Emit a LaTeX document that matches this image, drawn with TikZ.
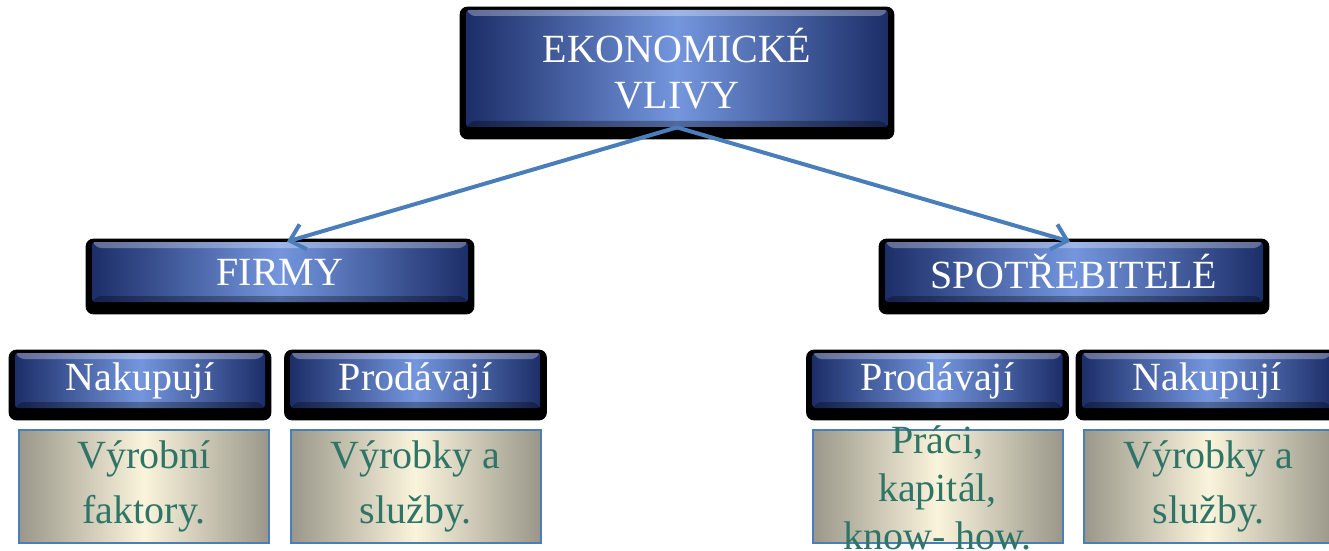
\documentclass[tikz,border=0pt]{standalone}
\usepackage{fontspec}
\setmainfont{Liberation Serif}
\usetikzlibrary{arrows.meta,positioning,fit,backgrounds}
\definecolor{navy}{HTML}{1C2E68}
\definecolor{sky}{HTML}{7496DE}
\definecolor{linkblue}{HTML}{4A7EBB}
\definecolor{cream}{HTML}{FAF4DC}
\definecolor{stone}{HTML}{9A978A}
\definecolor{leaf}{HTML}{2F7567}

\begin{document}
\begin{tikzpicture}[
  x=0.5pt, y=-0.5pt,
  font=\fontsize{20}{23}\selectfont,
  head/.style={rounded corners=1.5pt, left color=navy, right color=navy,
               middle color=sky, text=white, align=center, inner sep=0pt,
               minimum width=#1, minimum height=27.5pt,
               path picture={
                 \fill[white, opacity=.3] (path picture bounding box.north west)
                   -- (path picture bounding box.north east)
                   -- ([shift={(-3pt,-3pt)}]path picture bounding box.north east)
                   -- ([shift={(3pt,-3pt)}]path picture bounding box.north west) -- cycle;
                 \fill[black, opacity=.3] (path picture bounding box.south west)
                   -- (path picture bounding box.south east)
                   -- ([shift={(-3pt,3pt)}]path picture bounding box.south east)
                   -- ([shift={(3pt,3pt)}]path picture bounding box.south west) -- cycle;}},
  head/.default=125pt,
  rim/.style={fill=black, rounded corners=4pt, inner sep=0pt},
  card/.style={draw=linkblue, line width=1pt, left color=stone, right color=stone,
               middle color=cream, text=leaf,
               align=center, inner sep=0pt, minimum width=125pt, minimum height=56.5pt,
               font=\fontsize{20}{27.5}\selectfont},
  link/.style={-{Straight Barb[length=7pt, width=13pt]}, draw=linkblue, line width=2pt},
]
\useasboundingbox (0,0) rectangle (1329,551);

%% ---------------- top ----------------
\node[head=211pt, minimum height=58.5pt] (top) at (677, 68.5) {EKONOMICKÉ\\VLIVY};

%% ---------------- second row ----------------
\node[head=188pt, minimum height=30pt] (firmy) at (280, 272) {FIRMY};
\node[head=189pt, minimum height=30pt] (spot) at (1074, 272) {SPOTŘEBITELÉ};

%% ---------------- third row ----------------
\node[head] (nak1) at (140, 380.5) {Nakupují};
\node[head] (pro1) at (415.5, 380.5) {Prodávají};
\node[head] (pro2) at (937.5, 380.5) {Prodávají};
\node[head] (nak2) at (1207, 380.5) {Nakupují};

%% ---------------- contents ----------------
\node[card] (c1) at (144, 486.5) {Výrobní\\faktory.};
\node[card] (c2) at (415.5, 486.5) {Výrobky a\\služby.};
\node[card] (c3) at (937.5, 486.5)
  {\smash{\raisebox{-8pt}{\fontsize{20}{24}\selectfont
   \begin{tabular}{@{}c@{}}Práci,\\kapitál,\\know- how.\end{tabular}}}};
\node[card] (c4) at (1208.5, 486.5) {Výrobky a\\služby.};

%% black rims
\begin{scope}[on background layer]
  \foreach \n in {top,firmy,spot,nak1,pro1,pro2,nak2}
    \node[rim, fit={([shift={(-6,-3)}]\n.north west) ([shift={(6,12)}]\n.south east)}] (rim-\n) {};
\end{scope}

%% arrows
\draw[link] (top.south) -- ([xshift=3.5pt]firmy.north);
\draw[link] (top.south) -- ([xshift=-2pt]spot.north);

\end{tikzpicture}
\end{document}
